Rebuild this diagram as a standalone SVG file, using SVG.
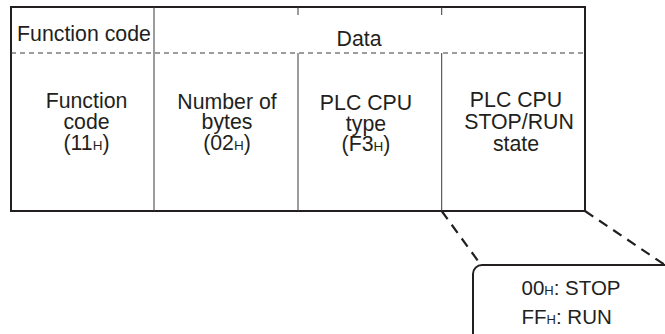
<svg xmlns="http://www.w3.org/2000/svg" width="665" height="334" viewBox="0 0 665 334">
<style>
.t{font-family:"Liberation Sans",Arial,sans-serif;font-size:21.3px;fill:#231f20;text-anchor:middle}
.s{font-size:13.5px}
.c{font-family:"Liberation Sans",Arial,sans-serif;font-size:20.5px;fill:#231f20}
.thin{stroke:#3a3a3a;stroke-width:1;fill:none}
.thick{stroke:#231f20;stroke-width:2;fill:none}
.dash{stroke:#3a3a3a;stroke-width:1;stroke-dasharray:5 4;fill:none}
.cdash{stroke:#231f20;stroke-width:2.2;stroke-dasharray:10 7;fill:none}
</style>
<g id="table">
<rect x="11" y="7" width="574" height="204" class="thick"/>
<line x1="11" y1="53" x2="585" y2="53" class="dash"/>
<line x1="154" y1="7" x2="154" y2="211" class="thin"/>
<line x1="298" y1="7" x2="298" y2="15" class="thin"/>
<line x1="298" y1="53" x2="298" y2="211" class="thin"/>
<line x1="441.7" y1="7" x2="441.7" y2="15" class="thin"/>
<line x1="441.7" y1="53" x2="441.7" y2="211" class="thin"/>
</g>
<g id="header-function-code"><text class="t" x="84" y="40.5">Function code</text></g>
<g id="header-data"><text class="t" x="359" y="45.5">Data</text></g>
<g id="cell-function-code">
<text class="t"><tspan x="86.5" y="107.5">Function</tspan><tspan x="86.5" y="128.5">code</tspan><tspan x="86.5" y="149.5">(11<tspan class="s">H</tspan>)</tspan></text>
</g>
<g id="cell-bytes">
<text class="t"><tspan x="227" y="108.5">Number of</tspan><tspan x="227" y="129">bytes</tspan><tspan x="227" y="149.5">(02<tspan class="s">H</tspan>)</tspan></text>
</g>
<g id="cell-type">
<text class="t"><tspan x="366" y="110">PLC CPU</tspan><tspan x="366" y="130.5">type</tspan><tspan x="366" y="151">(F3<tspan class="s">H</tspan>)</tspan></text>
</g>
<g id="cell-state">
<text class="t"><tspan x="516" y="107">PLC CPU</tspan><tspan x="519" y="129">STOP/RUN</tspan><tspan x="516" y="151">state</tspan></text>
</g>
<g id="connectors">
<line x1="441.7" y1="211" x2="481" y2="265" class="cdash"/>
<line x1="585" y1="211" x2="665" y2="265" class="cdash"/>
</g>
<g id="callout">
<rect x="473" y="265" width="230" height="78" rx="9" class="thick"/>
<text class="c"><tspan x="521.5" y="295">00<tspan font-size="13px">H</tspan>: STOP</tspan><tspan x="521.5" y="323.5">FF<tspan font-size="13px">H</tspan>: RUN</tspan></text>
</g>
</svg>
